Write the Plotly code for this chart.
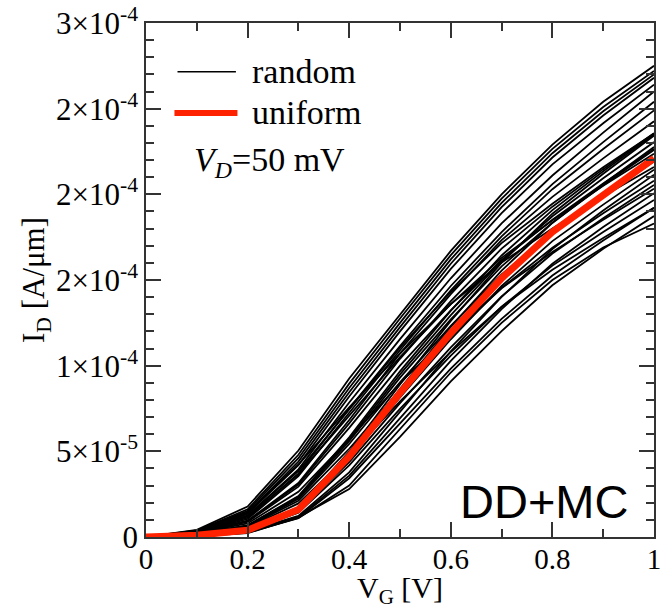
import plotly.graph_objects as go

# Gate voltage sweep (V)
V_G = [0.0, 0.1, 0.2, 0.3, 0.4, 0.5, 0.6, 0.7, 0.8, 0.9, 1.0]

# Drain currents below are given in units of 1e-5 A/um
ID_UNIT = 1e-5

# Device with uniform doping
uniform = [0, 0.10, 0.40, 1.60, 4.70, 8.40, 11.90, 15.10, 17.80, 20.00, 22.10]

# Devices with random discrete dopants (one list per device)
random_devices = [
    [0, 0.42, 1.78, 5.05, 9.25, 13.00, 16.70, 20.00, 22.90, 25.40, 27.50],
    [0, 0.38, 1.62, 4.80, 8.95, 12.75, 16.45, 19.75, 22.65, 25.10, 27.20],
    [0, 0.36, 1.52, 4.60, 8.70, 12.50, 16.20, 19.50, 22.40, 24.85, 27.00],
    [0, 0.33, 1.42, 4.40, 8.45, 12.25, 15.95, 19.25, 22.15, 24.60, 26.80],
    [0, 0.31, 1.35, 4.20, 8.20, 12.00, 15.65, 18.90, 21.75, 24.15, 26.40],
    [0, 0.30, 1.25, 3.95, 7.85, 11.55, 15.10, 18.30, 21.10, 23.60, 26.00],
    [0, 0.27, 1.12, 3.70, 7.50, 11.15, 14.65, 17.80, 20.60, 23.05, 25.40],
    [0, 0.25, 1.05, 3.55, 7.25, 10.90, 14.40, 17.55, 20.30, 22.65, 24.90],
    [0, 0.26, 0.95, 3.15, 6.83, 10.71, 14.18, 17.33, 19.85, 22.10, 24.26],
    [0, 0.33, 1.25, 3.85, 7.45, 11.05, 14.30, 17.15, 19.45, 21.58, 23.55],
    [0, 0.26, 0.92, 3.06, 6.63, 10.40, 13.77, 16.83, 19.28, 21.47, 23.56],
    [0, 0.19, 0.68, 2.39, 5.82, 9.67, 13.21, 16.43, 19.08, 21.35, 23.50],
    [0, 0.18, 0.66, 2.35, 5.71, 9.49, 12.95, 16.12, 18.72, 20.94, 23.05],
    [0, 0.25, 0.88, 2.94, 6.37, 10.00, 13.23, 16.17, 18.52, 20.63, 22.64],
    [0, 0.18, 0.65, 2.30, 5.60, 9.30, 12.70, 15.80, 18.35, 20.53, 22.60],
    [0, 0.31, 1.19, 3.66, 7.08, 10.50, 13.59, 16.29, 18.48, 20.50, 22.37],
    [0, 0.10, 0.41, 1.65, 4.84, 8.65, 12.26, 15.55, 18.33, 20.60, 22.76],
    [0, 0.36, 1.44, 4.23, 7.56, 10.71, 13.59, 16.02, 18.00, 19.89, 21.60],
    [0, 0.17, 0.63, 2.23, 5.43, 9.02, 12.32, 15.33, 17.80, 19.91, 21.92],
    [0, 0.11, 0.42, 1.70, 4.98, 8.90, 12.61, 16.01, 18.87, 21.20, 23.43],
    [0, 0.10, 0.39, 1.55, 4.56, 8.15, 11.54, 14.65, 17.27, 19.40, 21.44],
    [0, 0.08, 0.32, 1.23, 3.77, 7.30, 10.83, 14.01, 16.81, 19.06, 21.15],
    [0, 0.17, 0.60, 2.12, 5.15, 8.56, 11.68, 14.54, 16.88, 18.89, 20.79],
    [0, 0.09, 0.37, 1.49, 4.37, 7.81, 11.07, 14.04, 16.55, 18.60, 20.55],
    [0, 0.22, 0.79, 2.64, 5.72, 8.98, 11.88, 14.52, 16.63, 18.52, 20.33],
    [0, 0.07, 0.31, 1.16, 3.58, 6.93, 10.28, 13.30, 15.95, 18.09, 20.07],
    [0, 0.09, 0.36, 1.42, 4.18, 7.48, 10.59, 13.44, 15.84, 17.80, 19.67],
    [0, 0.15, 0.55, 1.96, 4.76, 7.91, 10.80, 13.43, 15.60, 17.45, 19.21],
    [0, 0.04, 0.22, 1.15, 2.80, 5.85, 9.08, 12.02, 14.69, 16.82, 18.73],
    [0, 0.05, 0.25, 1.10, 3.00, 6.30, 9.60, 12.50, 15.00, 16.90, 18.30],
    [0, 0.07, 0.29, 1.11, 3.43, 6.63, 9.83, 12.73, 15.26, 17.31, 19.21],
]

# Axis ticks
x_tickvals = [0, 0.2, 0.4, 0.6, 0.8, 1.0]
x_ticktext = ["0", "0.2", "0.4", "0.6", "0.8", "1"]
y_tickvals = [0, 5e-5, 1e-4, 1.5e-4, 2e-4, 2.5e-4, 3e-4]
y_ticktext = ["0", "5×10<sup>-5</sup>", "1×10<sup>-4</sup>", "2×10<sup>-4</sup>",
              "2×10<sup>-4</sup>", "2×10<sup>-4</sup>", "3×10<sup>-4</sup>"]

SERIF = "Liberation Serif"
SANS = "Liberation Sans"
AXIS_COLOR = "#333333"
RED = "#ff2200"

fig = go.Figure()

for dev in random_devices:
    fig.add_trace(go.Scatter(
        x=V_G, y=[v * ID_UNIT for v in dev], mode="lines",
        line=dict(color="black", width=1.8), showlegend=False,
        hoverinfo="skip",
    ))

fig.add_trace(go.Scatter(
    x=V_G, y=[v * ID_UNIT for v in uniform], mode="lines",
    line=dict(color=RED, width=7), showlegend=False,
))

axis_common = dict(
    showline=True, linecolor=AXIS_COLOR, linewidth=1.5, mirror="allticks",
    ticks="inside", tickcolor=AXIS_COLOR, tickwidth=1.5, ticklen=15,
    showgrid=False, zeroline=False, ticklabeloverflow="allow",
)

fig.update_xaxes(
    range=[0, 1], tickmode="array", tickvals=x_tickvals, ticktext=x_ticktext,
    tickfont=dict(family=SERIF, size=29, color="black"),
    minor=dict(dtick=0.1, tick0=0, ticks="inside", ticklen=8,
               tickcolor=AXIS_COLOR, tickwidth=1.5),
    ticklabelstandoff=-5,
    title=dict(text="V<sub>G</sub> [V]", font=dict(family=SERIF, size=30, color="black"),
               standoff=0),
    **axis_common,
)
fig.update_yaxes(
    range=[0, 3e-4], tickmode="array", tickvals=y_tickvals, ticktext=y_ticktext,
    tickfont=dict(family=SERIF, size=31, color="black"),
    minor=dict(dtick=1e-5, tick0=0, ticks="inside", ticklen=8,
               tickcolor=AXIS_COLOR, tickwidth=1.5),
    title=dict(text="I<sub>D</sub> [A/μm]", font=dict(family=SERIF, size=31, color="black"),
               standoff=2),
    **axis_common,
)

# Legend drawn inside the plot area
legend_font = dict(family=SERIF, size=34, color="black")
fig.add_shape(type="line", xref="paper", yref="paper",
              x0=0.062, x1=0.177, y0=0.905, y1=0.905,
              line=dict(color="black", width=1.5))
fig.add_shape(type="line", xref="paper", yref="paper",
              x0=0.056, x1=0.180, y0=0.825, y1=0.825,
              line=dict(color=RED, width=6))
fig.add_annotation(text="random", xref="paper", yref="paper", x=0.204, y=0.905,
                   xanchor="left", yanchor="middle", showarrow=False, font=legend_font)
fig.add_annotation(text="uniform", xref="paper", yref="paper", x=0.204, y=0.825,
                   xanchor="left", yanchor="middle", showarrow=False, font=legend_font)
fig.add_annotation(text="<i>V</i><sub><i>D</i></sub>=50 mV", xref="paper", yref="paper",
                   x=0.09, y=0.73, xanchor="left", yanchor="middle", showarrow=False,
                   font=legend_font)
fig.add_annotation(text="DD+MC", xref="paper", yref="paper", x=0.952, y=0.07,
                   xanchor="right", yanchor="middle", showarrow=False,
                   font=dict(family=SANS, size=47, color="black"))

fig.update_layout(
    width=663, height=609,
    margin=dict(l=146, r=2, t=22, b=72),
    plot_bgcolor="white", paper_bgcolor="white",
)

fig.write_html("out.html")
